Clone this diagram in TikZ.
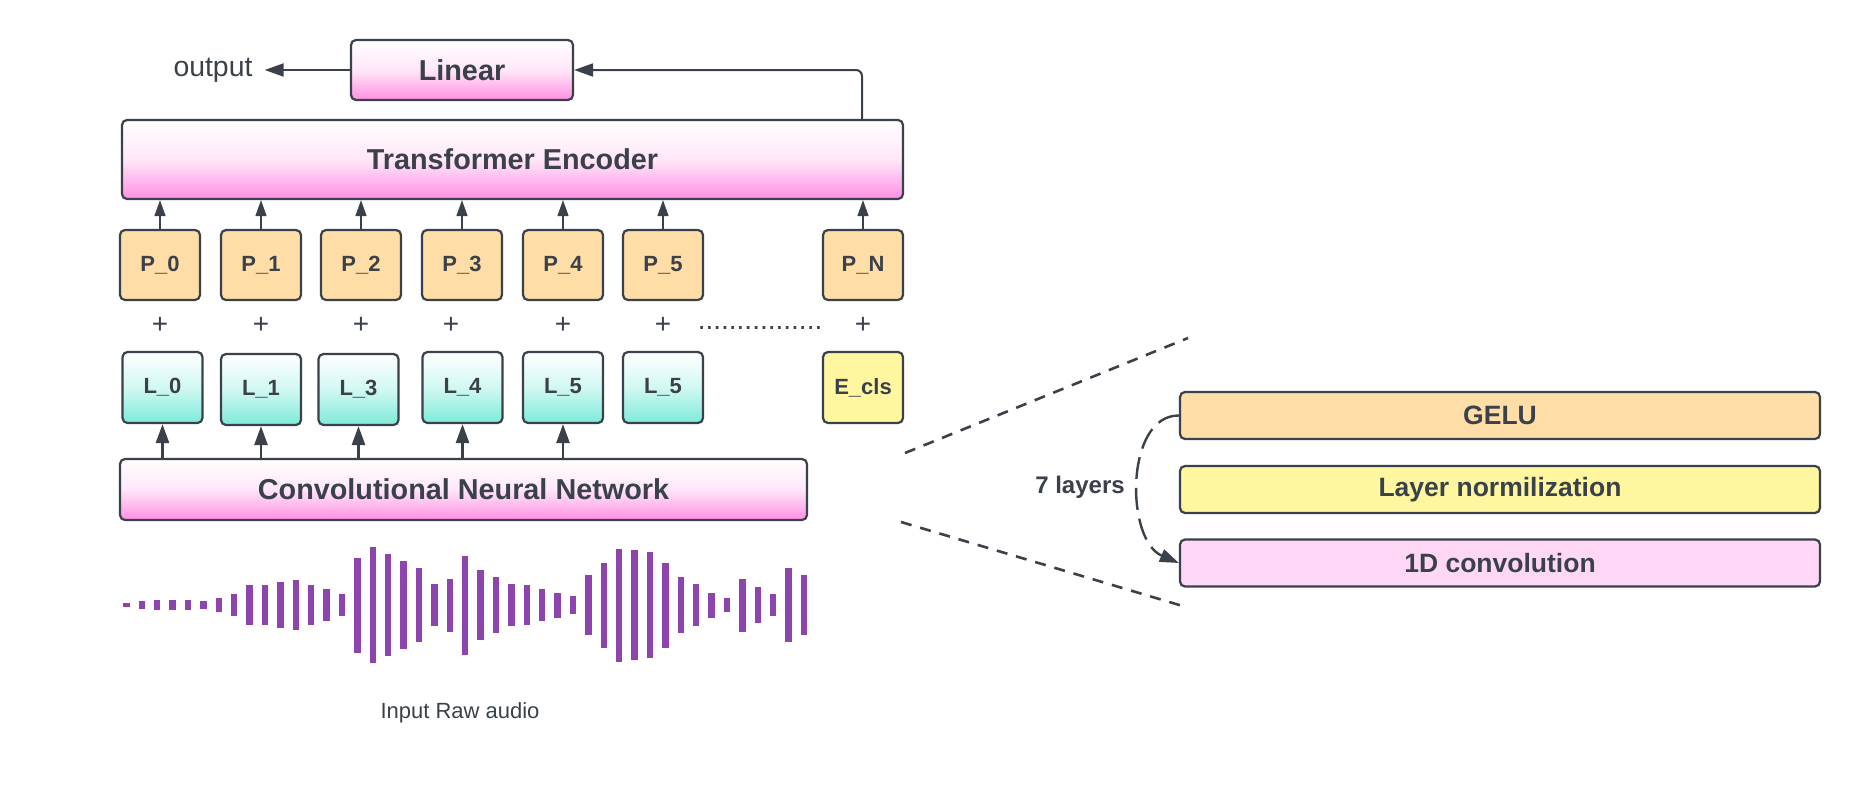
\documentclass[tikz,border=0pt]{standalone}
\usepackage{fontspec}
\setmainfont{Liberation Sans}
\usetikzlibrary{arrows.meta,positioning}
\definecolor{ink}{HTML}{3A414A}
\definecolor{pinkb}{HTML}{FF8FE3}
\definecolor{tealb}{HTML}{7DEBD9}
\definecolor{orangel}{HTML}{FFDDA6}
\definecolor{yellowl}{HTML}{FFF6A0}
\definecolor{pinkl}{HTML}{FFD7F6}
\definecolor{wavec}{HTML}{8E44AD}
\begin{document}
\begin{tikzpicture}[x=1pt,y=-1pt,
      every node/.append style={text=ink},
      box/.style={draw=ink,line width=2.2pt,rounded corners=5pt,inner sep=0pt,font=\bfseries\fontsize{28.8}{34}\selectfont},
      pinkbox/.style={box,top color=white,bottom color=pinkb,middle color=pinkb!22},
      tok/.style={box,minimum width=80pt,minimum height=70pt,font=\bfseries\fontsize{22}{26}\selectfont},
      posbox/.style={tok,fill=orangel},
      latbox/.style={tok,minimum height=71pt,top color=white,bottom color=tealb,middle color=tealb!35},
      stage/.style={box,minimum width=640pt,minimum height=47pt,font=\bfseries\fontsize{26.5}{31}\selectfont},
      plussign/.style={font=\fontsize{28}{32}\selectfont},
      arr/.style={draw=ink,line width=2.7pt,-{Triangle[width=13pt,length=19pt]}},
      parr/.style={draw=ink,line width=1.4pt,-{Triangle[width=11pt,length=16pt]}},
      zoomline/.style={draw=ink,line width=2.6pt,dash pattern=on 11pt off 9pt}]
    \useasboundingbox (0,0) rectangle (1860,787);
    \node[pinkbox,minimum width=222pt,minimum height=60pt] (lin) at (462,70) {Linear};
    \node[font=\fontsize{28.4}{34}\selectfont,inner xsep=12pt,inner ysep=0pt] (out) at (213,70) {output};
    \node[pinkbox,minimum width=781pt,minimum height=79pt] (enc) at (512.5,159.5) {Transformer Encoder};
    \node[posbox] (p0) at (160,265) {P\_0};
    \node[posbox] (p1) at (261,265) {P\_1};
    \node[posbox] (p2) at (361,265) {P\_2};
    \node[posbox] (p3) at (462,265) {P\_3};
    \node[posbox] (p4) at (563,265) {P\_4};
    \node[posbox] (p5) at (663,265) {P\_5};
    \node[posbox] (pn) at (863,265) {P\_N};
    \node[plussign] (s0) at (160,325) {+};
    \node[plussign] (s1) at (261,325) {+};
    \node[plussign] (s2) at (361,325) {+};
    \node[plussign] (s3) at (451,325) {+};
    \node[plussign] (s4) at (563,325) {+};
    \node[plussign] (s5) at (663,325) {+};
    \node[plussign] (sn) at (863,325) {+};
    \node[plussign,anchor=base] (dots) at (760,329) {................};
    \node[latbox] (l0) at (162.5,387.5) {L\_0};
    \node[latbox] (l1) at (261,389.5) {L\_1};
    \node[latbox] (l2) at (358.5,389.5) {L\_3};
    \node[latbox] (l3) at (462.5,387.5) {L\_4};
    \node[latbox] (l4) at (563,387.5) {L\_5};
    \node[latbox] (l5) at (663,387.5) {L\_5};
    \node[tok,fill=yellowl,minimum height=71pt] (ecls) at (863,387.5) {E\_cls};
    \node[pinkbox,minimum width=687pt,minimum height=61pt] (cnn) at (463.5,489.5) {Convolutional Neural Network};
    \foreach \h [count=\i from 0] in {3.3,7.3,10.7,10.7,10.7,7.3,14,21.3,39.3,39.3,46,49.3,39.3,32,21.3,95,116.7,102.3,88.3,74,42.7,53,99,70.7,56.7,42.7,39.3,32,25,18,60,85,113,109.3,106,85,56.7,42.7,25,14,53,35.3,21.3,74,60}
      \fill[wavec] ({126.3+15.4*\i-3.2},{605-\h/2}) rectangle ++(6.4,\h);
    \node[font=\fontsize{22}{26}\selectfont] (cap) at (460,713) {Input Raw audio};
    \node[stage,fill=orangel] (gelu) at (1500,415.5) {GELU};
    \node[stage,fill=yellowl] (norm) at (1500,489.5) {Layer normilization};
    \node[stage,fill=pinkl] (conv) at (1500,563) {1D convolution};
    \node[font=\bfseries\fontsize{24}{28}\selectfont] (rep) at (1080,487) {7 layers};
    \coordinate (fb) at (862,120);
    \coordinate (z1) at (905,453);
    \coordinate (z2) at (1188,338);
    \coordinate (z3) at (901,522);
    \coordinate (z4) at (1186,607);
    \draw[arr,line width=2pt] (lin.west) -- (out.east);
    \draw[arr,line width=2pt,rounded corners=6pt] (fb) |- (lin.east);
    \foreach \n in {p0,p1,p2,p3,p4,p5,pn}
      \draw[parr] (\n) -- (\n |- enc.south);
    \foreach \n in {l0,l1,l2,l3,l4}
      \draw[arr] (cnn.north -| \n) -- (\n);
    \draw[zoomline] (z1) -- (z2);
    \draw[zoomline] (z3) -- (z4);
    \draw[arr,line width=2.4pt,dash pattern=on 22pt off 9pt] (gelu.west) .. controls (1125,415) and (1125,540) .. (conv.west);
\end{tikzpicture}
\end{document}
